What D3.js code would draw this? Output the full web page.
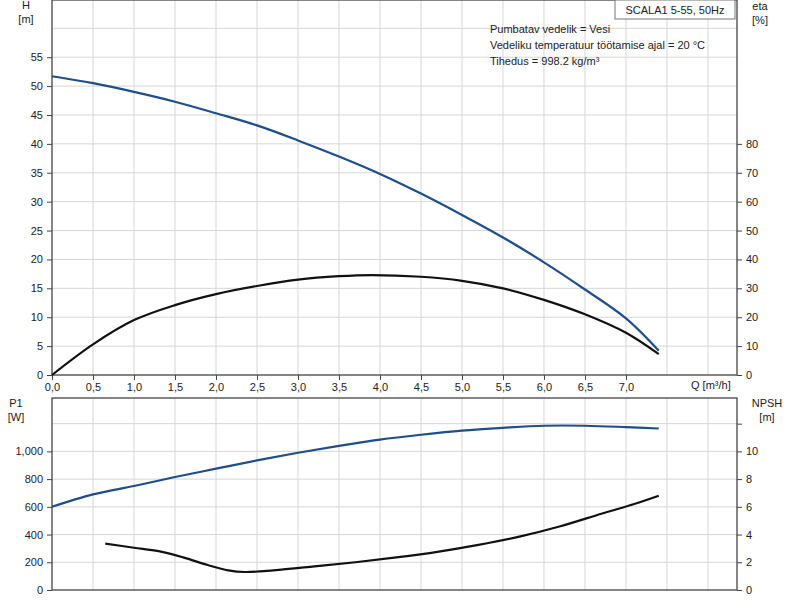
<!DOCTYPE html><html><head><meta charset="utf-8"><script src="https://cdn.jsdelivr.net/npm/d3@7"></script>
<style>body{margin:0;background:#fff}text{font-family:"Liberation Sans",Arial,sans-serif;font-size:11px;fill:#222}</style></head><body><svg id="c" width="800" height="600"></svg><script>
const qTicks=[0,0.5,1,1.5,2,2.5,3,3.5,4,4.5,5,5.5,6,6.5,7];
const hTicks=[0,5,10,15,20,25,30,35,40,45,50,55];
const etaTicks=[0,10,20,30,40,50,60,70,80];
const p1Ticks=[0,200,400,600,800,1000];
const npshTicks=[0,2,4,6,8,10];
const qH=[0,0.5,1,1.5,2,2.5,3,3.5,4,4.5,5,5.5,6,6.5,7,7.4];
const H=[51.7,50.5,49,47.3,45.3,43.2,40.6,37.8,34.8,31.4,27.7,23.8,19.5,14.8,9.8,4.2];
const qEta=[0,0.5,1,1.5,2,2.5,3,3.5,3.9,4.5,5,5.5,6,6.5,7,7.4];
const eta=[0,10.6,19,24.2,28,30.8,33,34.2,34.6,34,32.6,30,26,21,14.6,7.2];
const qP1=[0,0.5,1,1.5,2,2.5,3,3.5,4,4.5,5,5.5,6,6.5,7,7.4];
const P1=[600,690,750,815,875,935,990,1040,1085,1120,1150,1170,1185,1185,1175,1165];
const qNpsh=[0.65,1.0,1.3,1.6,1.9,2.15,2.35,2.7,3.2,3.7,4.2,4.7,5.2,5.7,6.2,6.7,7.1,7.4];
const npsh=[3.35,3.05,2.8,2.35,1.8,1.42,1.3,1.42,1.7,2.0,2.35,2.75,3.25,3.85,4.6,5.5,6.2,6.8];
const svg=d3.select("#c");
const L=52,R=737;
const x=d3.scaleLinear().domain([0,8.354]).range([L,R]);
const yH=d3.scaleLinear().domain([0,64.9]).range([375,0]);
const yE=d3.scaleLinear().domain([0,129.8]).range([375,0]);
const yP=d3.scaleLinear().domain([0,1385]).range([590,398]);
const yN=d3.scaleLinear().domain([0,13.85]).range([590,398]);
const grid="#d6d6d6";
function panel(y0,y1,hg){
 const g=svg.append("g");
 d3.range(0.5,8.01,0.5).forEach(q=>g.append("line").attr("x1",x(q)).attr("x2",x(q)).attr("y1",y0).attr("y2",y1).attr("stroke",grid));
 hg.forEach(v=>g.append("line").attr("x1",L).attr("x2",R).attr("y1",v).attr("y2",v).attr("stroke",grid));
 g.append("rect").attr("x",L).attr("y",y0).attr("width",R-L).attr("height",y1-y0).attr("fill","none").attr("stroke","#444").attr("stroke-width",1.3);
}
panel(0,375,d3.range(5,61,5).map(yH));
panel(398,590,d3.range(200,1201,200).map(yP));
function ax(gen,tx){const g=svg.append("g").attr("transform",tx).call(gen);g.select(".domain").remove();g.selectAll("line").attr("stroke","#444");return g;}
ax(d3.axisLeft(yH).tickValues(hTicks).tickSize(5).tickPadding(4),`translate(${L},0)`);
ax(d3.axisRight(yE).tickValues(etaTicks).tickSize(5).tickPadding(4),`translate(${R},0)`);
ax(d3.axisBottom(x).tickValues(qTicks).tickSize(5).tickPadding(3).tickFormat(d=>d3.format(".1f")(d).replace(".",",")),`translate(0,375)`);
ax(d3.axisLeft(yP).tickValues(p1Ticks).tickSize(5).tickPadding(4),`translate(${L},0)`);
ax(d3.axisRight(yN).tickValues(npshTicks.concat([12])).tickSize(5).tickPadding(4).tickFormat(d=>d==12?"":d),`translate(${R},0)`);
svg.selectAll(".tick text").style("font-size","11px");
const t=(s,xx,yy,a)=>svg.append("text").attr("x",xx).attr("y",yy).attr("text-anchor",a||"start").text(s);
t("H",26,9,"middle");t("[m]",26,23,"middle");
t("eta",760,10,"middle");t("[%]",760,24,"middle");
t("P1",16,407,"middle");t("[W]",16,421,"middle");
t("NPSH",767,407,"middle");t("[m]",767,421,"middle");
t("Q [m³/h]",691,389);
svg.append("rect").attr("x",615).attr("y",0).attr("width",120).attr("height",19).attr("fill","#fff").attr("stroke","#777");
t("SCALA1 5-55, 50Hz",675,14,"middle");
t("Pumbatav vedelik = Vesi",490,33);
t("Vedeliku temperatuur töötamise ajal = 20 °C",490,49);
t("Tihedus = 998.2 kg/m³",490,65);
function curve(qs,vs,ys,c){svg.append("path").attr("d",d3.line().curve(d3.curveCatmullRom).x((d,i)=>x(qs[i])).y(d=>ys(d))(vs)).attr("fill","none").attr("stroke",c).attr("stroke-width",2.2);}
curve(qH,H,yH,"#1f4e8c");
curve(qEta,eta,yE,"#111");
curve(qP1,P1,yP,"#1f4e8c");
curve(qNpsh,npsh,yN,"#111");
</script></body></html>
